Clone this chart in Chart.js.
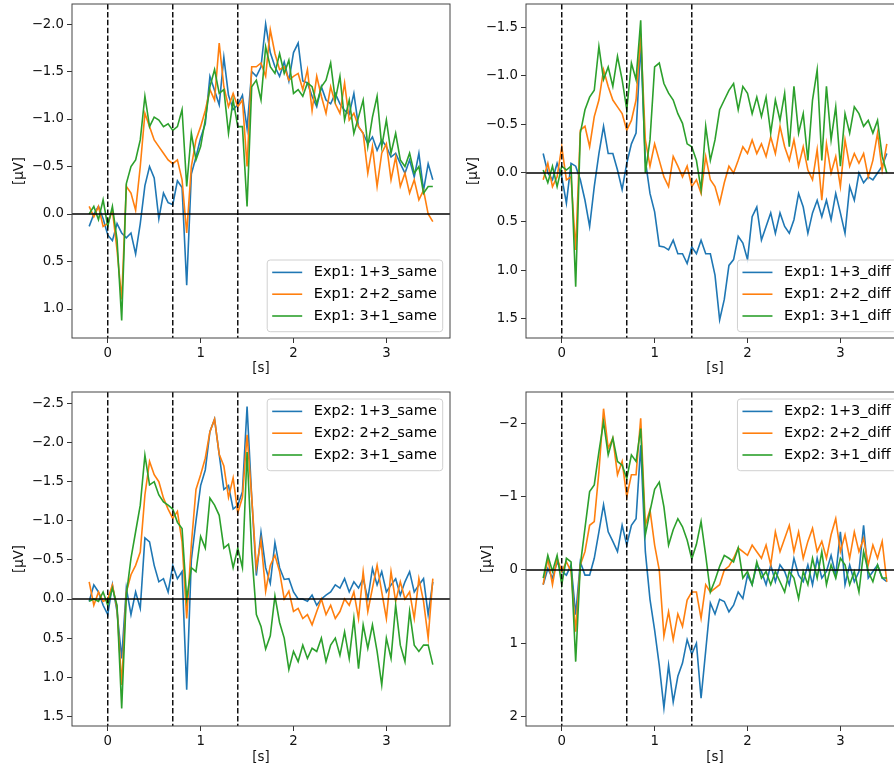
<!DOCTYPE html>
<html>
<head>
<meta charset="utf-8">
<script src="https://cdn.jsdelivr.net/npm/chart.js@4.4.1/dist/chart.umd.min.js"></script>
<style>
  html, body { margin: 0; padding: 0; background: #fff; overflow: hidden; width: 894px; height: 769px; }
  canvas { position: absolute; }
</style>
</head>
<body>
<canvas id="p1" width="460" height="380" style="left:0;top:0"></canvas>
<canvas id="p2" width="460" height="380" style="left:460px;top:0"></canvas>
<canvas id="p3" width="460" height="384" style="left:0;top:385px"></canvas>
<canvas id="p4" width="460" height="384" style="left:460px;top:385px"></canvas>
<script>
// time axis [s]
const time = [
  -0.2, -0.15, -0.1, -0.05, 0, 0.05, 0.1, 0.15, 0.2, 0.25,
  0.3, 0.35, 0.4, 0.45, 0.5, 0.55, 0.6, 0.65, 0.7, 0.75,
  0.8, 0.85, 0.9, 0.95, 1.0, 1.05, 1.1, 1.15, 1.2, 1.25,
  1.3, 1.35, 1.4, 1.45, 1.5, 1.55, 1.6, 1.65, 1.7, 1.75,
  1.8, 1.85, 1.9, 1.95, 2.0, 2.05, 2.1, 2.15, 2.2, 2.25,
  2.3, 2.35, 2.4, 2.45, 2.5, 2.55, 2.6, 2.65, 2.7, 2.75,
  2.8, 2.85, 2.9, 2.95, 3.0, 3.05, 3.1, 3.15, 3.2, 3.25,
  3.3, 3.35, 3.4, 3.45, 3.5
];
const eventTimes = [0, 0.7, 1.4];
const xTicks = [0, 1, 2, 3];

// Exp1, same [µV]
const exp1Same13 = [
  0.13, 0.0, -0.08, 0.05, 0.22, 0.28, 0.1, 0.2, 0.25, 0.2,
  0.42, 0.1, -0.3, -0.5, -0.38, 0.05, -0.22, -0.12, -0.1, -0.35,
  -0.28, 0.75, -0.42, -0.6, -0.8, -0.95, -1.45, -1.3, -1.15, -1.65,
  -1.25, -1.1, -1.15, -1.25, -0.9, -1.5, -1.45, -1.55, -2.0, -1.7,
  -1.55, -1.45, -1.6, -1.4, -1.7, -1.8, -1.4, -1.38, -1.24, -1.13,
  -1.34, -1.2, -1.16, -1.27, -1.16, -1.09, -1.05, -1.27, -0.92, -0.85,
  -0.74, -0.81, -0.67, -0.78, -0.71, -0.6, -0.64, -0.53, -0.43, -0.57,
  -0.39, -0.64, -0.25, -0.53, -0.36
];
const exp1Same22 = [
  -0.08, 0.03, -0.08, 0.13, 0.1, -0.04, 0.38, 0.9, -0.29, -0.22,
  -0.04, -0.5, -1.06, -0.92, -0.78, -0.71, -0.64, -0.57, -0.53, -0.57,
  -0.36, 0.2, -0.5, -0.78, -0.92, -1.09, -1.31, -1.2, -1.8, -1.34,
  -1.13, -1.27, -1.13, -1.2, -0.5, -1.55, -1.55, -1.59, -1.45, -1.94,
  -1.69, -1.52, -1.55, -1.41, -1.45, -1.48, -1.31, -1.52, -1.09, -1.45,
  -1.24, -1.06, -1.34, -1.16, -1.06, -1.38, -0.99, -1.06, -0.92, -0.85,
  -0.43, -0.71, -0.29, -0.64, -0.74, -0.36, -0.6, -0.29, -0.43, -0.22,
  -0.36, -0.15, -0.25, 0.0, 0.08
];
const exp1Same31 = [
  0.0, -0.08, 0.06, -0.15, 0.13, -0.08, 0.27, 1.12, -0.32, -0.5,
  -0.57, -0.78, -1.24, -0.92, -1.02, -0.99, -0.92, -0.95, -0.88, -0.92,
  -1.1, -0.29, -0.85, -0.57, -0.71, -0.99, -1.34, -1.52, -1.27, -1.31,
  -0.85, -1.2, -0.92, -0.92, -0.08, -1.34, -1.41, -1.2, -1.76, -1.55,
  -1.48, -1.69, -1.48, -1.62, -1.27, -1.31, -1.24, -1.38, -1.34, -1.16,
  -1.34, -1.41, -1.59, -1.2, -1.45, -0.99, -1.2, -0.85, -1.02, -1.2,
  -0.71, -1.02, -1.24, -0.71, -0.99, -0.64, -0.85, -0.57, -0.5, -0.64,
  -0.43, -0.5, -0.22, -0.29, -0.29
];

// Exp1, diff [µV]
const exp1Diff13 = [
  -0.2, 0.0, 0.07, -0.1, 0.04, 0.31, -0.1, -0.07, 0.07, 0.28,
  0.55, 0.14, -0.2, -0.48, -0.2, -0.2, -0.03, 0.17, -0.1, -0.3,
  -0.41, -1.33, -0.13, 0.21, 0.4, 0.75, 0.76, 0.79, 0.69, 0.83,
  0.83, 0.93, 0.76, 0.83, 0.69, 0.83, 0.83, 1.05, 1.51, 1.3,
  0.95, 0.89, 0.65, 0.72, 0.89, 0.45, 0.35, 0.69, 0.55, 0.41,
  0.62, 0.41, 0.55, 0.62, 0.48, 0.21, 0.35, 0.62, 0.41, 0.28,
  0.45, 0.28, 0.48, 0.21, 0.41, 0.62, 0.14, 0.28, 0.0, 0.1,
  0.04, 0.07, 0.0, -0.07, -0.2
];
const exp1Diff22 = [
  0.07, -0.1, 0.14, 0.04, -0.27, 0.07, 0.04, 0.79, -0.44, -0.48,
  -0.27, -0.58, -0.75, -1.06, -0.89, -0.75, -0.68, -0.61, -0.44, -0.54,
  -0.75, -1.43, -0.34, -0.07, -0.3, -0.13, 0.04, 0.14, -0.17, -0.07,
  0.04, -0.07, 0.14, 0.07, 0.21, -0.17, 0.07, 0.14, 0.31, 0.1,
  -0.07, 0.0, -0.13, -0.27, -0.2, -0.34, -0.2, -0.3, -0.17, -0.37,
  -0.2, -0.48, -0.27, -0.13, -0.34, -0.07, -0.27, -0.03, 0.07, -0.24,
  0.28, -0.3, 0.0, -0.17, 0.14, -0.34, -0.07, -0.2, -0.1, -0.2,
  0.04, -0.13, -0.41, -0.03, -0.3
];
const exp1Diff31 = [
  -0.03, 0.1, -0.07, 0.14, -0.07, -0.03, -0.07, 1.17, -0.41, -0.65,
  -0.78, -0.85, -1.3, -0.96, -1.09, -0.89, -1.2, -0.96, -0.65, -1.13,
  -0.96, -1.57, 0.0, -0.34, -1.09, -1.13, -0.92, -0.82, -0.75, -0.61,
  -0.51, -0.3, -0.27, -0.13, 0.17, -0.48, -0.13, -0.34, -0.65, -0.75,
  -0.85, -0.92, -0.65, -0.89, -0.82, -0.61, -0.78, -0.58, -0.78, -0.41,
  -0.75, -0.54, -0.82, -0.27, -0.89, -0.41, -0.61, -0.13, -0.75, -1.06,
  -0.13, -0.89, -0.34, -0.68, -0.07, -0.61, -0.41, -0.68, -0.61, -0.48,
  -0.54, -0.41, -0.54, -0.17, 0.0
];

// Exp2, same [µV]
const exp2Same13 = [
  0.03, -0.18, -0.09, 0.08, 0.2, -0.18, 0.16, 0.76, -0.14, 0.2,
  -0.09, 0.12, -0.78, -0.73, -0.43, -0.22, -0.26, -0.09, -0.43, -0.26,
  -0.35, 1.16, -0.5, -1.0, -1.45, -1.65, -2.14, -2.3, -1.85, -1.4,
  -1.45, -1.15, -1.2, -1.37, -2.46, -1.3, -0.3, -0.85, -0.4, -0.2,
  -0.72, -0.4, -0.25, -0.26, -0.09, 0.0, 0.0, 0.03, -0.05, 0.08,
  0.0, -0.05, -0.09, -0.18, -0.14, -0.26, -0.09, -0.22, -0.14, -0.26,
  0.0, -0.39, -0.18, -0.35, -0.09, -0.18, -0.26, -0.05, -0.22, -0.35,
  -0.09, -0.18, -0.26, 0.2, -0.22
];
const exp2Same22 = [
  -0.22, 0.08, -0.09, 0.03, 0.0, -0.18, 0.12, 1.1, -0.09, -0.31,
  -0.43, -0.6, -1.33, -1.76, -1.59, -1.5, -1.29, -1.15, -1.03, -1.12,
  -0.73, 0.25, -0.7, -1.4, -1.59, -1.8, -2.14, -2.3, -1.85, -1.7,
  -1.3, -1.55, -1.1, -1.3, -2.1, -1.3, -0.4, -0.75, -0.1, -0.43,
  -0.56, -0.35, 0.0, -0.1, 0.16, 0.12, 0.25, 0.2, 0.33, 0.16,
  0.0, 0.2, 0.08, 0.25, 0.16, 0.0, 0.08, -0.09, 0.25, -0.35,
  0.16, -0.14, -0.43, -0.09, 0.25, -0.35, 0.03, -0.22, 0.0, -0.09,
  0.25, -0.26, 0.03, 0.5, -0.26
];
const exp2Same31 = [
  0.03, 0.0, 0.03, -0.09, 0.08, -0.14, 0.08, 1.4, -0.05, -0.52,
  -0.86, -1.2, -1.84, -1.46, -1.5, -1.33, -1.24, -1.2, -1.15, -0.98,
  -0.9, 0.0, -0.4, -0.35, -0.8, -0.65, -1.29, -1.2, -1.07, -0.65,
  -0.7, -0.4, -0.65, -0.4, -1.88, -0.6, 0.2, 0.35, 0.64, 0.47,
  -0.04, 0.3, 0.5, 0.9, 0.67, 0.8, 0.59, 0.76, 0.63, 0.67,
  0.5, 0.8, 0.59, 0.5, 0.72, 0.42, 0.76, 0.25, 0.89, 0.33,
  0.63, 0.33, 0.67, 1.1, 0.5, 0.76, 0.08, 0.59, 0.8, 0.16,
  0.59, 0.67, 0.59, 0.59, 0.84
];

// Exp2, diff [µV]
const exp2Diff13 = [
  0.2, -0.02, 0.11, -0.11, 0.02, 0.07, -0.07, 0.61, -0.11, 0.07,
  0.07, -0.16, -0.52, -0.89, -0.52, -0.39, -0.25, -0.61, -0.34, -0.61,
  -0.7, -1.7, -0.25, 0.4, 0.82, 1.3, 1.88, 1.3, 1.8, 1.45,
  1.27, 0.95, 1.15, 1.0, 1.75, 1.1, 0.45, 0.6, 0.4, 0.43,
  0.57, 0.48, 0.3, 0.39, 0.07, 0.2, -0.07, 0.02, 0.2, -0.07,
  0.16, -0.07, 0.02, 0.2, -0.16, 0.07, 0.16, -0.07, 0.2, -0.16,
  0.11, 0.02, -0.2, 0.07, -0.52, 0.2, -0.07, 0.16, 0.02, -0.61,
  0.11, 0.02, -0.07, 0.11, 0.16
];
const exp2Diff22 = [
  0.2, -0.16, 0.2, -0.16, 0.02, -0.11, 0.02, 0.84, -0.07, -0.25,
  -0.61, -0.66, -1.34, -2.2, -1.66, -1.8, -1.3, -1.48, -1.0, -1.3,
  -1.3, -2.07, -0.61, -0.82, -0.34, 0.0, 0.9, 0.57, 0.95, 0.6,
  0.77, 0.41, 0.3, 0.3, 0.66, 0.2, 0.3, 0.25, 0.2, 0.0,
  -0.05, -0.16, -0.3, -0.25, -0.2, -0.34, -0.25, -0.16, -0.34, -0.07,
  -0.52, -0.25, -0.43, -0.61, -0.25, -0.52, -0.16, -0.39, -0.57, -0.25,
  -0.39, -0.16, -0.48, -0.7, -0.25, -0.48, -0.16, -0.52, -0.25, -0.43,
  -0.07, -0.34, -0.16, -0.39, 0.16
];
const exp2Diff31 = [
  0.11, -0.2, 0.02, -0.2, 0.2, -0.16, -0.11, 1.25, -0.07, -0.57,
  -1.07, -1.16, -1.61, -2.02, -1.57, -1.8, -1.48, -1.43, -1.25, -1.57,
  -1.48, -1.93, -0.48, -0.8, -1.1, -1.2, -0.86, -0.34, -0.55, -0.7,
  -0.59, -0.41, -0.15, -0.35, -0.66, -0.2, 0.3, 0.14, -0.05, -0.2,
  -0.16, -0.11, -0.3, 0.11, 0.02, 0.2, -0.11, 0.11, 0.02, 0.2,
  0.02, 0.16, 0.3, 0.02, 0.11, 0.39, 0.02, 0.2, -0.16, 0.11,
  -0.25, 0.2, -0.07, 0.11, -0.16, -0.07, 0.2, 0.02, 0.3, -0.25,
  0.02, 0.16, -0.07, 0.11, 0.11
];

const colors = ['#1f77b4', '#ff7f0e', '#2ca02c'];
const xMin = -0.385, xMax = 3.685;
const font = '"DejaVu Sans", sans-serif';

Chart.defaults.font.family = font;
Chart.defaults.font.size = 13.3;
Chart.defaults.color = '#111';

// matplotlib-style legend box in a corner of the plot area
const legendBox = {
  id: 'legendBox',
  afterDraw(chart, args, opts) {
    const { ctx, chartArea } = chart;
    const items = chart.data.datasets.filter(d => d.inLegend);
    ctx.save();
    ctx.font = '14.5px ' + font;
    const textW = Math.max(...items.map(d => ctx.measureText(d.label).width));
    const w = textW + 52.5, h = 71.7;
    const x = chartArea.right - 7.3 - w;
    const y = opts.corner === 'upper' ? chartArea.top + 7 : chartArea.bottom - 6.3 - h;
    ctx.beginPath();
    ctx.roundRect(x, y, w, h, 3);
    ctx.fillStyle = 'rgba(255,255,255,0.8)';
    ctx.fill();
    ctx.strokeStyle = '#d0d0d0';
    ctx.lineWidth = 1;
    ctx.stroke();
    items.forEach((d, i) => {
      const cy = y + 12.4 + i * 21.8;
      ctx.strokeStyle = d.borderColor;
      ctx.lineWidth = 1.6;
      ctx.beginPath();
      ctx.moveTo(x + 5, cy);
      ctx.lineTo(x + 35, cy);
      ctx.stroke();
      ctx.fillStyle = '#000';
      ctx.textBaseline = 'middle';
      ctx.fillText(d.label, x + 46.6, cy);
    });
    ctx.restore();
  }
};

const frame = {
  id: 'frame',
  afterDatasetsDraw(chart) {
    const { ctx, chartArea: a } = chart;
    ctx.save();
    ctx.strokeStyle = '#444';
    ctx.lineWidth = 1;
    ctx.strokeRect(a.left, a.top, a.right - a.left, a.bottom - a.top);
    ctx.restore();
  }
};

function fmt(v, digits) {
  return v.toFixed(digits).replace('-', '\u2212');
}

function makePanel(id, p) {
  const series = p.series.map((vals, k) => ({
    label: p.labels[k],
    inLegend: true,
    data: time.map((t, i) => ({ x: t, y: vals[i] })),
    borderColor: colors[k],
    borderWidth: 1.6,
    pointRadius: 0,
    tension: 0,
    order: 3 - k
  }));
  const vlines = eventTimes.map(t => ({
    data: [{ x: t, y: p.yMin }, { x: t, y: p.yMax }],
    borderColor: '#000',
    borderWidth: 1.4,
    borderDash: [5.5, 2.4],
    pointRadius: 0,
    order: 0
  }));
  const zeroLine = {
    data: [{ x: xMin, y: 0 }, { x: xMax, y: 0 }],
    borderColor: '#000',
    borderWidth: 1.4,
    pointRadius: 0,
    order: 0
  };

  new Chart(document.getElementById(id), {
    type: 'line',
    data: { datasets: [...series, ...vlines, zeroLine] },
    options: {
      responsive: false,
      animation: false,
      events: [],
      layout: { padding: { top: p.padTop, right: p.padRight, left: 0, bottom: 0 } },
      plugins: {
        legend: { display: false },
        tooltip: { enabled: false },
        legendBox: { corner: p.corner }
      },
      scales: {
        x: {
          type: 'linear',
          min: xMin,
          max: xMax,
          afterBuildTicks: s => { s.ticks = xTicks.map(v => ({ value: v })); },
          afterFit: s => { s.height = p.xHeight; s.paddingLeft = 0; s.paddingRight = 0; },
          ticks: { padding: 3, maxRotation: 0, autoSkip: false, color: '#111', callback: v => fmt(v, 0) },
          grid: { drawOnChartArea: false, tickLength: 5, color: '#333' },
          border: { display: false },
          title: { display: true, text: '[s]', color: '#111', padding: { top: 0, bottom: 3 } }
        },
        y: {
          type: 'linear',
          reverse: true,
          min: p.yMin,
          max: p.yMax,
          afterBuildTicks: s => { s.ticks = p.yTicks.map(v => ({ value: v })); },
          afterFit: s => { s.width = p.yWidth; s.paddingTop = 0; s.paddingBottom = 0; },
          ticks: { padding: 3, autoSkip: false, color: '#111', callback: v => fmt(v, p.digits) },
          grid: { drawOnChartArea: false, tickLength: 5, color: '#333' },
          border: { display: false },
          title: { display: true, text: '[\u03bcV]', color: '#111', padding: { top: p.titlePad, bottom: 0 } }
        }
      }
    },
    plugins: [frame, legendBox]
  });
}

makePanel('p1', {
  series: [exp1Same13, exp1Same22, exp1Same31],
  labels: ['Exp1: 1+3_same', 'Exp1: 2+2_same', 'Exp1: 3+1_same'],
  yMin: -2.211, yMax: 1.305, yTicks: [-2, -1.5, -1, -0.5, 0, 0.5, 1], digits: 1,
  padTop: 4, padRight: 10, yWidth: 72, xHeight: 42, titlePad: 12, corner: 'lower'
});
makePanel('p2', {
  series: [exp1Diff13, exp1Diff22, exp1Diff31],
  labels: ['Exp1: 1+3_diff', 'Exp1: 2+2_diff', 'Exp1: 3+1_diff'],
  yMin: -1.737, yMax: 1.696, yTicks: [-1.5, -1, -0.5, 0, 0.5, 1, 1.5], digits: 1,
  padTop: 4, padRight: 16, yWidth: 66, xHeight: 42, titlePad: 6, corner: 'lower'
});
makePanel('p3', {
  series: [exp2Same13, exp2Same22, exp2Same31],
  labels: ['Exp2: 1+3_same', 'Exp2: 2+2_same', 'Exp2: 3+1_same'],
  yMin: -2.647, yMax: 1.624, yTicks: [-2.5, -2, -1.5, -1, -0.5, 0, 0.5, 1, 1.5], digits: 1,
  padTop: 7, padRight: 10, yWidth: 72, xHeight: 43, titlePad: 12, corner: 'upper'
});
makePanel('p4', {
  series: [exp2Diff13, exp2Diff22, exp2Diff31],
  labels: ['Exp2: 1+3_diff', 'Exp2: 2+2_diff', 'Exp2: 3+1_diff'],
  yMin: -2.428, yMax: 2.128, yTicks: [-2, -1, 0, 1, 2], digits: 0,
  padTop: 7, padRight: 16, yWidth: 66, xHeight: 43, titlePad: 19.3, corner: 'upper'
});
</script>
</body>
</html>
